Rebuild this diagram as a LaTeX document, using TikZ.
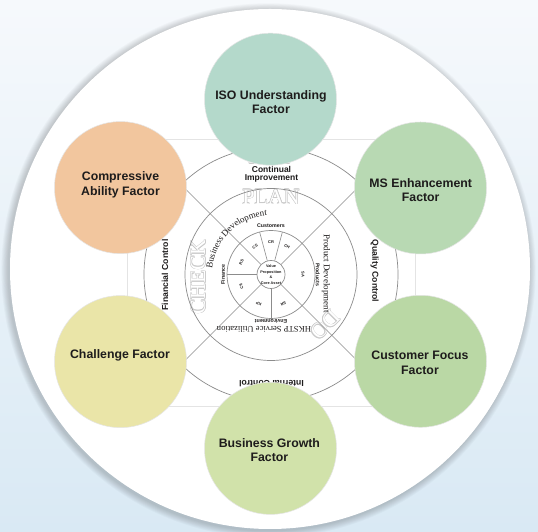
\documentclass[tikz,border=0pt]{standalone}
\usepackage{fontspec}
\setmainfont{Liberation Sans}
\newfontfamily\serifF{Liberation Serif}
\usetikzlibrary{decorations.text}
\definecolor{bgtop}{HTML}{F6F9FC}
\definecolor{bgbot}{HTML}{D9E9F4}
\definecolor{isoC}{HTML}{B4D9CB}
\definecolor{msC}{HTML}{B8D9B3}
\definecolor{cfC}{HTML}{BAD8A5}
\definecolor{bgC}{HTML}{D1E2AA}
\definecolor{chC}{HTML}{EAE5A8}
\definecolor{caC}{HTML}{F2C69E}
\definecolor{ringC}{HTML}{8C8C8C}
\definecolor{txtC}{HTML}{1E1C1C}
\definecolor{faintC}{HTML}{E4E4E4}
\definecolor{hollowC}{HTML}{CACACA}
\newcommand\hollowword[5]{%
  \coordinate (#5p) at ([shift={(#1:#2)}]C);
  \foreach \aa in {0,45,...,315}
    \node[hollow, text=hollowC, rotate=#3] at ([shift={(\aa:0.55)}]#5p) {#4};
  \node[hollow, text=white, rotate=#3] (#5) at (#5p) {#4};
}
\begin{document}
\begin{tikzpicture}[x=1pt,y=1pt,
  factor/.style={circle, minimum size=132pt, inner sep=0pt, draw=black!10, line width=0.5pt},
  ftext/.style={font=\fontsize{12.3}{14.6}\selectfont\bfseries, text=txtC, align=center, inner sep=0pt},
  ring/.style={draw=ringC, line width=0.7pt},
  divider/.style={draw=ringC, line width=0.6pt},
  ctrl/.style={font=\fontsize{8.7}{8.7}\selectfont\bfseries, text=txtC, inner sep=0pt},
  seglabel/.style={font=\fontsize{4}{4}\selectfont\bfseries, text=txtC, inner sep=0pt},
  quad/.style={font=\fontsize{5.3}{5.3}\selectfont\bfseries, text=txtC, inner sep=0pt},
  serifT/.style={font=\serifF\fontsize{9}{9}\selectfont, text=txtC, inner sep=0pt},
  hollow/.style={font=\serifF\fontsize{22}{22}\selectfont, inner sep=0pt},
]
\useasboundingbox (0,0) rectangle (538,532);
\shade[top color=bgtop, bottom color=bgbot] (0,0) rectangle (538,532);
\foreach \i in {1,...,8} \fill[black, opacity=0.022] (268.5,261.5) circle ({260+0.9*\i});
\node[circle, fill=white, minimum size=520pt, inner sep=0pt] (disc) at (270,263) {};
\coordinate (C) at (271,257.5);
% faint frame
\coordinate (fr1) at (127,392); \coordinate (fr2) at (415,125);
\draw[faintC, line width=1pt] (fr1) rectangle (fr2);
% hollow PDCA words
\hollowword{90}{77.5}{0}{PLAN}{plan}
\hollowword{182}{73}{90}{CHECK}{check}
\hollowword{-43}{74}{-135}{DO}{do}
\hollowword{90}{118}{0}{ACT}{act}
% rings
\draw[ring] (C) circle (127);
\draw[ring] (C) circle (86);
\draw[ring] (C) circle (44);
\node[circle, draw=ringC, line width=0.7pt, minimum size=28pt, inner sep=0pt, fill=white] (core) at (C) {};
\foreach \a [count=\k] in {45,135,225,315} {
  \coordinate (d\k) at ([shift={(\a:150)}]C);
  \draw[divider] (core.\a) -- (d\k);
}
\foreach \a [count=\k] in {180,105,75,270} {
  \coordinate (s\k) at ([shift={(\a:44)}]C);
  \draw[divider] (core.\a) -- (s\k);
}
\node[align=center, font=\fontsize{3.8}{5.5}\selectfont\bfseries, text=txtC, inner sep=0pt] (coretext) at (core) {Value\\Proposition\\\&\\Core Asset};
% segment labels
\foreach \t/\a [count=\k] in {CR/90, CH/60, SA/0, SR/-67.5, KP/-112.5, C\$/-157.5, RS/157.5, CS/120}
  \node[seglabel, rotate=\a-90] (seg\k) at ([shift={(\a:32)}]C) {\t};
% quadrant labels
\node[quad] (cust) at ([shift={(90:48.5)}]C) {Customers};
\node[quad, rotate=-90] (prod) at ([shift={(0:46.8)}]C) {Products};
\node[quad, rotate=180] (env) at ([shift={(-90:47)}]C) {Environment};
\node[quad, rotate=90] (fin) at ([shift={(180:48)}]C) {Finance};
% serif texts
\path[decorate, decoration={text along path, text align=center,
  text={|\serifF\fontsize{9}{9}\selectfont\color{txtC}|Business Development}}]
  ([shift={(184:59)}]C) arc[start angle=184, end angle=84, radius=59];
\node[serifT, rotate=-90] (pd) at (326,258.6) {Product Development};
\node[serifT, font=\serifF\fontsize{8.6}{8.6}\selectfont, rotate=180] (hk) at (264,203) {HKSTP Service Utilization};
% outer ring texts
\node[ctrl, align=center, font=\fontsize{8.5}{7.5}\selectfont\bfseries] (ci) at (271.5,357.5) {Continual\\Improvement};
\node[ctrl, rotate=-90] (qc) at (374.5,261) {Quality Control};
\node[ctrl, rotate=90] (fc) at (165,257) {Financial Control};
\node[ctrl, rotate=180] (ic) at (271.5,148.5) {Internal Control};
% factor circles
\node[factor, fill=isoC] (iso) at (270.5,432.8) {};
\node[factor, fill=msC] (ms) at (420.5,344) {};
\node[factor, fill=cfC] (cf) at (420.5,170.7) {};
\node[factor, fill=bgC] (bg) at (270.5,83.6) {};
\node[factor, fill=chC] (ch) at (120.5,170.4) {};
\node[factor, fill=caC] (ca) at (120.5,344.4) {};
\node[ftext] (isot) at (271,429.7) {ISO Understanding\\Factor};
\node[ftext] (mst) at (420.7,342) {MS Enhancement\\Factor};
\node[ftext] (cft) at (420,169) {Customer Focus\\Factor};
\node[ftext] (bgt) at (269.4,82) {Business Growth\\Factor};
\node[ftext] (cht) at (120,176.4) {Challenge Factor};
\node[ftext] (cat) at (120.5,346.9) {Compressive\\Ability Factor};
\end{tikzpicture}
\end{document}
